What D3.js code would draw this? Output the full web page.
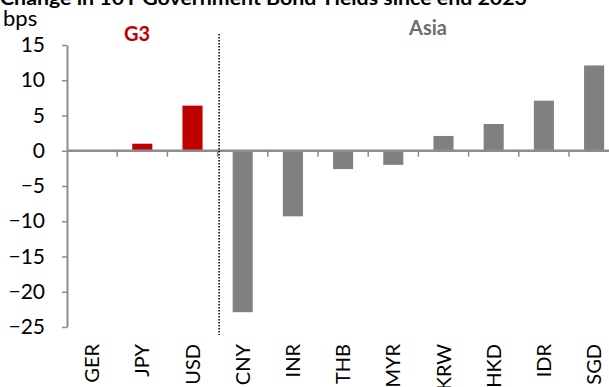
<!DOCTYPE html>
<html>
<head>
<meta charset="utf-8">
<script src="https://cdn.jsdelivr.net/npm/d3@7"></script>
<style>
  html, body { margin: 0; padding: 0; background: #fff; }
  svg { display: block; font-family: Lato, "Open Sans", sans-serif; }
</style>
</head>
<body>
<svg id="chart" width="609" height="387"></svg>
<script>
// Change in 10Y government bond yields, bps
const categories = ["GER", "JPY", "USD", "CNY", "INR", "THB", "MYR", "KRW", "HKD", "IDR", "SGD"];
const values     = [0, 1.0, 6.4, -22.9, -9.3, -2.6, -2.0, 2.1, 3.8, 7.1, 12.1];
const groups     = ["G3", "G3", "G3", "Asia", "Asia", "Asia", "Asia", "Asia", "Asia", "Asia", "Asia"];
const yTicks     = [-25, -20, -15, -10, -5, 0, 5, 10, 15];

const title = "Change in 10Y Government Bond Yields since end 2023";
const colors = { G3: "#C00000", Asia: "#808080" };
const axisColor = "#8c8c8c";
const labelSize = 21;
const catSize = 20;

const svg = d3.select("#chart");
const plotLeft = 67, plotRight = 619.2, plotTop = 45, plotBottom = 327;

const x = d3.scaleBand()
  .domain(categories)
  .range([plotLeft, plotRight])
  .paddingInner(0.6)
  .paddingOuter(0.3);

const y = d3.scaleLinear().domain([-25, 15]).range([plotBottom, plotTop]);

// title (sits partly above the frame)
svg.append("text")
  .attr("x", 0).attr("y", 5)
  .attr("font-weight", "bold")
  .attr("font-size", 18)
  .attr("textLength", 527)
  .attr("lengthAdjust", "spacingAndGlyphs")
  .attr("fill", "#000")
  .text(title);

// unit label
svg.append("text")
  .attr("x", 3).attr("y", 26)
  .attr("font-size", 22)
  .attr("fill", "#000")
  .text("bps");

// bars
const data = categories.map((c, i) => ({ c, v: values[i], g: groups[i] }));
svg.append("g").selectAll("rect")
  .data(data)
  .join("rect")
  .attr("x", d => x(d.c))
  .attr("width", x.bandwidth())
  .attr("y", d => y(Math.max(0, d.v)))
  .attr("height", d => Math.abs(y(d.v) - y(0)))
  .attr("fill", d => colors[d.g]);

// y axis
const yAxis = d3.axisLeft(y)
  .tickValues(yTicks)
  .tickSize(5)
  .tickSizeOuter(0)
  .tickPadding(17)
  .tickFormat(d3.format("d"));

const gy = svg.append("g")
  .attr("transform", `translate(${plotLeft},0)`)
  .call(yAxis);
gy.select(".domain").attr("stroke", axisColor).attr("stroke-width", 2);
gy.selectAll(".tick line").attr("stroke", axisColor).attr("stroke-width", 1.5);
gy.selectAll(".tick text")
  .attr("font-size", labelSize)
  .attr("fill", "#000")
  .attr("font-family", "Lato, 'Open Sans', sans-serif");

// zero line with category separators
const step = x.step();
const zeroY = y(0);
svg.append("line")
  .attr("x1", plotLeft).attr("x2", plotRight)
  .attr("y1", zeroY).attr("y2", zeroY)
  .attr("stroke", axisColor).attr("stroke-width", 2.5);

const boundaries = categories.slice(1).map(c => x(c) + x.bandwidth() / 2 - step / 2)
  .concat([x(categories[categories.length - 1]) + x.bandwidth() / 2 + step / 2]);
svg.append("g").selectAll("line")
  .data(boundaries)
  .join("line")
  .attr("x1", d => d).attr("x2", d => d)
  .attr("y1", zeroY).attr("y2", zeroY + 6)
  .attr("stroke", axisColor).attr("stroke-width", 1.5);

// category labels, rotated
svg.append("g").selectAll("text")
  .data(categories)
  .join("text")
  .attr("transform", c => `translate(${x(c) + x.bandwidth() / 2 + 7},344) rotate(-90)`)
  .attr("text-anchor", "end")
  .attr("font-size", catSize)
  .attr("fill", "#000")
  .text(c => c);

// divider between G3 and Asia
const divX = x("CNY") + x.bandwidth() / 2 - step / 2 + 1.5;
svg.append("line")
  .attr("x1", divX).attr("x2", divX)
  .attr("y1", 34).attr("y2", 335)
  .attr("stroke", "#000")
  .attr("stroke-width", 1.5)
  .attr("stroke-dasharray", "1.5,1.5");

// group labels
svg.append("text")
  .attr("x", 124).attr("y", 41)
  .attr("font-weight", "bold").attr("font-size", 20)
  .attr("fill", colors.G3)
  .text("G3");

svg.append("text")
  .attr("x", 409).attr("y", 35)
  .attr("font-weight", "bold").attr("font-size", 20)
  .attr("fill", "#6e6e6e")
  .text("Asia");
</script>
</body>
</html>
